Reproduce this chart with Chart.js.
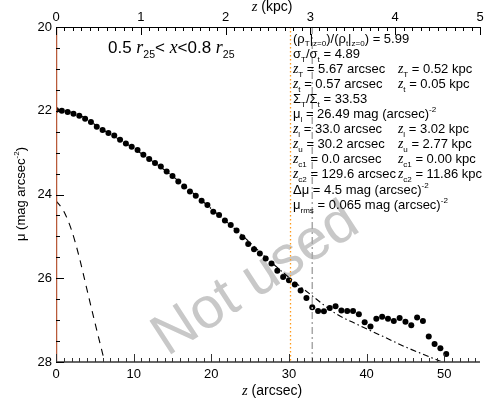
<!DOCTYPE html>
<html>
<head>
<meta charset="utf-8">
<script src="https://cdn.jsdelivr.net/npm/chart.js@4"></script>
<style>
  html, body { margin: 0; padding: 0; background: #fff; }
</style>
</head>
<body>
<canvas id="myChart" width="484" height="399"></canvas>
<script>
// Profilo verticale: punti osservati (z in arcsec, mu in mag arcsec^-2)
const zObs = [0, 0.75, 1.5, 2.25, 3, 3.75, 4.5, 5.25, 6, 6.75, 7.5, 8.25, 9, 9.75, 10.5, 11.25,
  12, 12.75, 13.5, 14.25, 15, 15.75, 16.5, 17.25, 18, 18.75, 19.5, 20.25, 21, 21.75, 22.5, 23.25,
  24, 24.75, 25.5, 26.25, 27, 27.75, 28.5, 29.25, 30, 30.75, 31.5, 32.25, 33, 33.75, 34.5, 35.25,
  36, 36.75, 37.5, 38.25, 39, 39.75, 40.5, 41.25, 42, 42.75, 43.5, 44.25, 45, 45.75, 46.5, 47.25,
  48, 48.75, 49.5, 50.25];
const muObs = [21.98, 22.00, 22.03, 22.07, 22.12, 22.19, 22.27, 22.38, 22.46, 22.53, 22.59, 22.69,
  22.78, 22.86, 22.94, 23.05, 23.15, 23.25, 23.33, 23.45, 23.56, 23.69, 23.81, 23.93, 24.03, 24.15,
  24.25, 24.41, 24.49, 24.62, 24.73, 24.86, 25.02, 25.18, 25.31, 25.41, 25.53, 25.65, 25.82, 25.97,
  26.05, 26.15, 26.29, 26.47, 26.69, 26.78, 26.79, 26.71, 26.67, 26.77, 26.78, 26.78, 26.86, 27.05,
  27.15, 26.97, 26.92, 26.97, 27.02, 26.95, 27.04, 27.12, 26.94, 27.02, 27.39, 27.57, 27.67, 27.81];

// Fit totale (tratto-punto)
const zFit = [0, 3, 6, 9, 12, 15, 18, 21, 24, 27, 30, 33, 36, 39, 42, 45, 48, 50];
const muFit = [21.96, 22.1, 22.45, 22.78, 23.15, 23.56, 24.02, 24.5, 24.98, 25.5, 25.98, 26.42,
  26.84, 27.12, 27.38, 27.64, 27.87, 28.02];

// Disco sottile (tratteggiato)
const zThin = [0, 1, 2, 3, 4, 5, 6, 6.5];
const muThin = [24.15, 24.4, 24.85, 25.5, 26.28, 27.05, 27.8, 28.17];

// Limiti verticali
const zCut1 = 0.0;
const zUpper = 30.2;
const zLower = 33.0;

// Assi
const arcsecTicks = [0, 10, 20, 30, 40, 50];
const kpcTicks = [0, 1, 2, 3, 4, 5];
const muTicks = [20, 22, 24, 26, 28];
const arcsecPerKpc = 10.92;
const zMax = 54.6;

const SANS = '"Liberation Sans", Arial, sans-serif';
const SERIF = '"Liberation Serif", "Times New Roman", serif';

// testo con pedici/apici: '~' corsivo, '_' pedice, '^' apice
function rich(ctx, x, y, parts, size) {
    for (const p of parts) {
        let fs = size, dy = 0, font = SANS, st = '', t = p;
        if (p[0] === '_') { fs = size * 0.62; dy = size * 0.3; t = p.slice(1); }
        else if (p[0] === '^') { fs = size * 0.62; dy = -size * 0.45; t = p.slice(1); }
        else if (p[0] === '~') { font = SERIF; st = 'italic '; t = p.slice(1); fs = size * 1.05; }
        ctx.font = st + fs + 'px ' + font;
        ctx.fillText(t, x, y + dy);
        x += ctx.measureText(t).width;
    }
    return x;
}
function richWidth(ctx, parts, size) {
    ctx.save();
    ctx.globalAlpha = 0;
    const w = rich(ctx, 0, 0, parts, size);
    ctx.restore();
    return w;
}

const infoLeft = [
    ['(ρ', '_T', '|', '_z=0', ')/(ρ', '_t', '|', '_z=0', ') = 5.99'],
    ['σ', '_T', '/σ', '_t', ' = 4.89'],
    ['~z', '_T', ' = 5.67 arcsec'],
    ['~z', '_t', ' = 0.57 arcsec'],
    ['Σ', '_T', '/Σ', '_t', ' = 33.53'],
    ['μ', '_l', ' = 26.49 mag (arcsec)', '^-2'],
    ['~z', '_l', ' = 33.0 arcsec'],
    ['~z', '_u', ' = 30.2 arcsec'],
    ['~z', '_c1', ' = 0.0 arcsec'],
    ['~z', '_c2', ' = 129.6 arcsec'],
    ['Δμ = 4.5 mag (arcsec)', '^-2'],
    ['μ', '_rms', ' = 0.065 mag (arcsec)', '^-2']
];
const infoRight = [null, null,
    ['~z', '_T', ' = 0.52 kpc'],
    ['~z', '_t', ' = 0.05 kpc'],
    null, null,
    ['~z', '_l', ' = 3.02 kpc'],
    ['~z', '_u', ' = 2.77 kpc'],
    ['~z', '_c1', ' = 0.00 kpc'],
    ['~z', '_c2', ' = 11.86 kpc'],
    null, null];

const decorPlugin = {
    id: 'decor',
    beforeDatasetsDraw(chart) {
        const ctx = chart.ctx;
        // watermark
        ctx.save();
        ctx.translate(256, 280);
        ctx.rotate(-33 * Math.PI / 180);
        ctx.font = '58px ' + SANS;
        ctx.fillStyle = '#c8c8c8';
        ctx.textAlign = 'center';
        ctx.textBaseline = 'middle';
        ctx.fillText('Not used', 0, 0);
        ctx.restore();
    },
    afterDatasetsDraw(chart) {
        const ctx = chart.ctx;
        const a = chart.chartArea;
        const sx = chart.scales.x, sy = chart.scales.y, sk = chart.scales.x2;
        ctx.save();
        // cornice
        ctx.strokeStyle = '#000';
        ctx.lineWidth = 1;
        ctx.beginPath();
        ctx.moveTo(a.left, a.top + 0.5);
        ctx.lineTo(a.right, a.top + 0.5);
        ctx.stroke();
        ctx.strokeStyle = '#666';
        ctx.lineWidth = 2;
        ctx.beginPath();
        ctx.moveTo(a.left, a.bottom);
        ctx.lineTo(a.right, a.bottom);
        ctx.stroke();
        // tacche asse inferiore
        ctx.lineWidth = 1;
        ctx.strokeStyle = '#333';
        for (let v = 0; v <= zMax; v += 1) {
            const px = Math.round(sx.getPixelForValue(v)) + 0.5;
            const len = (v % 10 === 0) ? 8 : 4;
            ctx.beginPath();
            ctx.moveTo(px, a.bottom);
            ctx.lineTo(px, a.bottom - len);
            ctx.stroke();
        }
        // tacche asse superiore (kpc)
        ctx.strokeStyle = '#000';
        for (let i = 0; i <= 50; i++) {
            const px = Math.round(sk.getPixelForValue(i / 10)) + 0.5;
            const len = (i % 10 === 0) ? 8 : 4;
            ctx.beginPath();
            ctx.moveTo(px, a.top);
            ctx.lineTo(px, a.top + len);
            ctx.stroke();
        }
        // tacche asse sinistro
        for (let i = 0; i <= 16; i++) {
            const v = 20 + i * 0.5;
            const py = Math.round(sy.getPixelForValue(v)) + 0.5;
            const len = (i % 4 === 0) ? 8 : 4;
            ctx.beginPath();
            ctx.moveTo(a.left, py);
            ctx.lineTo(a.left + len, py);
            ctx.stroke();
        }
        ctx.restore();

        // titoli assi
        ctx.save();
        ctx.fillStyle = '#000';
        ctx.textBaseline = 'alphabetic';
        let w = richWidth(ctx, ['~z', ' (arcsec)'], 14);
        rich(ctx, (a.left + a.right) / 2 - w / 2 + 4, 395, ['~z', ' (arcsec)'], 14);
        w = richWidth(ctx, ['~z', ' (kpc)'], 14);
        rich(ctx, (a.left + a.right) / 2 - w / 2 + 4, 11, ['~z', ' (kpc)'], 14);
        ctx.translate(25, 194);
        ctx.rotate(-Math.PI / 2);
        w = richWidth(ctx, ['μ (mag arcsec', '^-2', ')'], 13);
        rich(ctx, -w / 2, 0, ['μ (mag arcsec', '^-2', ')'], 13);
        ctx.restore();

        // etichetta regione
        ctx.save();
        ctx.fillStyle = '#000';
        rich(ctx, 108, 53, ['0.5 ', '~r', '_25', '< ', '~x', '<0.8 ', '~r', '_25'], 17);
        // blocco parametri
        for (let i = 0; i < infoLeft.length; i++) {
            const y = 42.5 + i * 15.1;
            rich(ctx, 293, y, infoLeft[i], 13);
            if (infoRight[i]) rich(ctx, 398, y, infoRight[i], 13);
        }
        ctx.restore();
    }
};

function fixBox(size, key) {
    return function (s) {
        s[key] = size;
        s.paddingLeft = 0; s.paddingRight = 0; s.paddingTop = 0; s.paddingBottom = 0;
    };
}

const ctx = document.getElementById('myChart');
const myChart = new Chart(ctx, {
    type: 'scatter',
    data: {
        datasets: [
            {
                label: 'zc1',
                data: [{ x: zCut1, y: 20 }, { x: zCut1, y: 28 }],
                showLine: true, borderColor: '#b85a3a', borderWidth: 2.5, pointRadius: 0
            },
            {
                label: 'zu',
                data: [{ x: zUpper, y: 20 }, { x: zUpper, y: 28 }],
                showLine: true, borderColor: '#ff9a1a', borderWidth: 1.3, borderDash: [1.5, 2.5], pointRadius: 0
            },
            {
                label: 'zl',
                data: [{ x: zLower, y: 20 }, { x: zLower, y: 28 }],
                showLine: true, borderColor: '#a8a8a8', borderWidth: 1.5, borderDash: [7, 3, 2, 3], pointRadius: 0
            },
            {
                label: 'thin',
                data: zThin.map((z, i) => ({ x: z, y: muThin[i] })),
                showLine: true, borderColor: '#000', borderWidth: 1.1, borderDash: [7, 6], pointRadius: 0,
                cubicInterpolationMode: 'monotone'
            },
            {
                label: 'fit',
                data: zFit.map((z, i) => ({ x: z, y: muFit[i] })),
                showLine: true, borderColor: '#000', borderWidth: 1.1, borderDash: [6, 3, 1.5, 3], pointRadius: 0,
                cubicInterpolationMode: 'monotone'
            },
            {
                label: 'obs',
                data: zObs.map((z, i) => ({ x: z, y: muObs[i] })),
                backgroundColor: '#000', borderColor: '#000', pointRadius: 3, borderWidth: 0
            }
        ]
    },
    options: {
        responsive: false,
        devicePixelRatio: 1,
        animation: false,
        layout: { padding: { left: 0, right: 1, top: 0, bottom: 0 } },
        plugins: { legend: { display: false }, tooltip: { enabled: false } },
        scales: {
            x: {
                type: 'linear', position: 'bottom', min: 0, max: zMax,
                afterBuildTicks: s => { s.ticks = arcsecTicks.map(v => ({ value: v })); },
                ticks: { font: { family: SANS, size: 13 }, color: '#000', padding: 5, maxRotation: 0, autoSkip: false },
                grid: { display: false, drawTicks: false },
                border: { display: false },
                afterFit: fixBox(37, 'height')
            },
            x2: {
                type: 'linear', position: 'top', min: 0, max: zMax / arcsecPerKpc,
                afterBuildTicks: s => { s.ticks = kpcTicks.map(v => ({ value: v })); },
                ticks: { font: { family: SANS, size: 13 }, color: '#000', padding: 2, maxRotation: 0, autoSkip: false },
                grid: { display: false, drawTicks: false },
                border: { display: false },
                afterFit: fixBox(27, 'height')
            },
            y: {
                type: 'linear', reverse: true, min: 20, max: 28,
                afterBuildTicks: s => { s.ticks = muTicks.map(v => ({ value: v })); },
                ticks: { font: { family: SANS, size: 13 }, color: '#000', padding: 4, autoSkip: false },
                grid: { display: false, drawTicks: false },
                border: { display: false },
                afterFit: fixBox(56, 'width')
            }
        }
    },
    plugins: [decorPlugin]
});
</script>
</body>
</html>
